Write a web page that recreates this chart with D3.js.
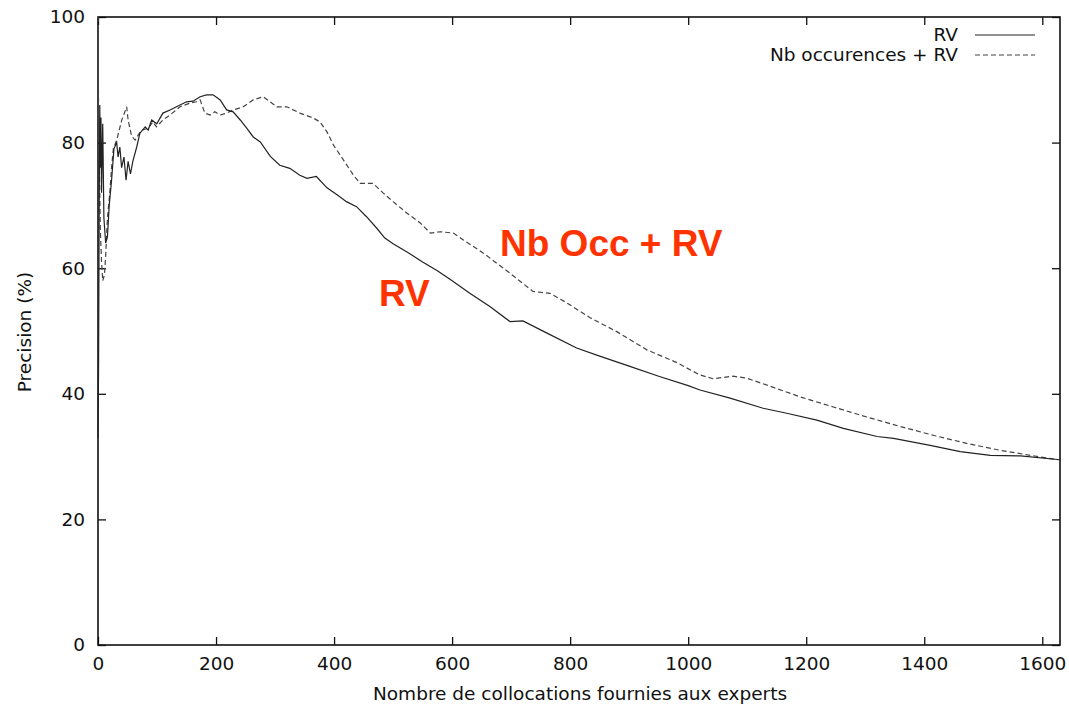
<!DOCTYPE html>
<html>
<head>
<meta charset="utf-8">
<script src="https://cdn.jsdelivr.net/npm/d3@7"></script>
<style>
  body { margin: 0; background: #fff; }
  text { font-family: "DejaVu Sans", sans-serif; }
</style>
</head>
<body>
<script>
// plot box
const w = 1069;
const h = 704;
const padL = 98, padR = 1060, padT = 17, padB = 645;
const fs = 18.5;

// data
const xTicks = [0, 200, 400, 600, 800, 1000, 1200, 1400, 1600];
const yTicks = [0, 20, 40, 60, 80, 100];

const rvX = [0, 1, 2, 3, 4, 5, 6, 8, 10, 13, 16, 19, 23, 27, 31.7, 34, 37, 40, 44, 47.5, 51, 55, 59, 65.6, 71, 80, 85, 91, 99.5, 110, 122, 133, 150, 161, 173, 184, 195, 207, 218, 229, 241, 252, 263, 275, 292, 308, 325, 342, 354, 370, 388, 405, 421, 438, 455, 472, 486, 500, 525, 550, 575, 597, 630, 664, 698, 720, 760, 811, 850, 900, 950, 1000, 1020, 1071, 1127, 1167, 1218, 1263, 1320, 1348, 1410, 1461, 1512, 1563, 1630];
const rvY = [33, 45, 70, 86, 76, 84, 72, 83, 68, 64, 65, 70, 74, 79, 80, 77.7, 79.3, 76, 77.7, 74, 77, 75, 77, 79.3, 81.5, 82.5, 82, 83.6, 83, 84.7, 85.2, 85.7, 86.5, 86.6, 87.3, 87.6, 87.6, 86.8, 85.2, 84.9, 83.6, 82.3, 80.9, 80.1, 77.8, 76.4, 75.9, 74.8, 74.3, 74.6, 72.8, 71.7, 70.6, 69.8, 68.2, 66.4, 64.8, 63.9, 62.5, 61, 59.6, 58.2, 56, 53.9, 51.5, 51.6, 49.7, 47.3, 46, 44.4, 42.8, 41.3, 40.6, 39.3, 37.7, 36.9, 35.8, 34.5, 33.2, 32.9, 31.8, 30.8, 30.2, 30.1, 29.5];

const occX = [0, 0.5, 1, 2, 3, 4, 6, 8, 11, 13, 16, 20, 23, 26, 32, 40, 48.6, 51, 57, 63, 70, 76, 85, 93, 99, 110, 122, 139, 156, 167, 173, 181, 190, 198, 207, 218, 229, 246, 263, 280, 303, 320, 342, 365, 376, 388, 399, 416, 433, 444, 455, 466, 483, 500, 523, 546, 563, 580, 602, 619, 653, 698, 737, 766, 794, 834, 879, 930, 980, 1020, 1042, 1076, 1099, 1139, 1190, 1246, 1303, 1359, 1415, 1472, 1529, 1580, 1627];
const occY = [100, 92, 85, 78, 72, 66, 61, 58, 59, 62, 68, 72, 76, 79, 80.5, 83.5, 85.7, 83.6, 81, 80.4, 81.5, 82, 82.3, 83.3, 82.5, 83.6, 84.4, 85.7, 86.3, 86.5, 86.8, 84.7, 84.4, 84.9, 84.4, 84.7, 85.2, 85.7, 86.8, 87.3, 85.7, 85.7, 84.7, 83.9, 83.3, 81.7, 79.6, 77.2, 74.8, 73.5, 73.5, 73.5, 72, 70.6, 68.8, 67.2, 65.6, 65.8, 65.6, 64.5, 62.4, 59.2, 56.3, 56, 54.5, 52.1, 49.9, 47, 45, 43, 42.4, 42.8, 42.5, 41.2, 39.5, 37.9, 36.3, 34.8, 33.4, 32.1, 31, 30.2, 29.5];

const seriesNames = ["RV", "Nb occurences + RV"];

const svg = d3.select("body")
  .append("svg")
  .attr("width", w)
  .attr("height", h);

const xScale = d3.scaleLinear().domain([0, 1630]).range([padL, padR]);
const yScale = d3.scaleLinear().domain([0, 100]).range([padB, padT]);

// gnuplot style inward ticks on all four sides
const xAxis = d3.axisBottom(xScale).tickValues(xTicks).tickFormat(d3.format("d"))
  .tickSizeInner(-8).tickSizeOuter(0).tickPadding(12);
const yAxis = d3.axisLeft(yScale).tickValues(yTicks).tickFormat(d3.format("d"))
  .tickSizeInner(-8).tickSizeOuter(0).tickPadding(13);

svg.append("g")
  .attr("transform", "translate(0," + padB + ")")
  .call(xAxis);
svg.append("g")
  .attr("transform", "translate(0," + padT + ")")
  .call(d3.axisTop(xScale).tickValues(xTicks).tickSizeInner(-8).tickSizeOuter(0).tickFormat(""));
svg.append("g")
  .attr("transform", "translate(" + padL + ",0)")
  .call(yAxis);
svg.append("g")
  .attr("transform", "translate(" + padR + ",0)")
  .call(d3.axisRight(yScale).tickValues(yTicks).tickSizeInner(-8).tickSizeOuter(0).tickFormat(""));

svg.selectAll(".domain").remove();
svg.selectAll(".tick line").attr("stroke", "#111").attr("stroke-width", 1.3);
svg.selectAll(".tick text")
  .attr("font-size", fs)
  .attr("fill", "#111")
  .style("font-family", "DejaVu Sans, sans-serif");

svg.append("rect")
  .attr("x", padL)
  .attr("y", padT)
  .attr("width", padR - padL)
  .attr("height", padB - padT)
  .attr("fill", "none")
  .attr("stroke", "#111")
  .attr("stroke-width", 1.6);

// curves
const line = d3.line()
  .x(d => xScale(d[0]))
  .y(d => yScale(d[1]));

const rv = rvX.map((x, i) => [x, rvY[i]]);
const occ = occX.map((x, i) => [x, occY[i]]);

svg.append("path")
  .datum(occ)
  .attr("d", line)
  .attr("fill", "none")
  .attr("stroke", "#444")
  .attr("stroke-width", 1.2)
  .attr("stroke-dasharray", "5,3");

svg.append("path")
  .datum(rv)
  .attr("d", line)
  .attr("fill", "none")
  .attr("stroke", "#222")
  .attr("stroke-width", 1.2);

// legend
const legend = svg.append("g");
seriesNames.forEach(function(name, i) {
  const y = 35 + i * 20;
  legend.append("text")
    .attr("x", 958)
    .attr("y", y)
    .attr("dy", "0.35em")
    .attr("text-anchor", "end")
    .attr("font-size", fs)
    .attr("fill", "#111")
    .text(name);
  legend.append("line")
    .attr("x1", 975).attr("x2", 1035)
    .attr("y1", y).attr("y2", y)
    .attr("stroke", i === 0 ? "#222" : "#444")
    .attr("stroke-width", 1.1)
    .attr("stroke-dasharray", i === 0 ? null : "5,3");
});

// axis titles
svg.append("text")
  .attr("x", 580)
  .attr("y", 700)
  .attr("text-anchor", "middle")
  .attr("font-size", fs)
  .attr("fill", "#111")
  .text("Nombre de collocations fournies aux experts");

svg.append("text")
  .attr("transform", "translate(31,332) rotate(-90)")
  .attr("text-anchor", "middle")
  .attr("font-size", fs)
  .attr("fill", "#111")
  .text("Precision (%)");

// red annotations
svg.append("text")
  .attr("x", 500)
  .attr("y", 256)
  .attr("font-size", 37)
  .attr("font-weight", "bold")
  .attr("fill", "#ff3300")
  .style("font-family", "Liberation Sans, Arial, sans-serif")
  .text("Nb Occ + RV");

svg.append("text")
  .attr("x", 379)
  .attr("y", 306)
  .attr("font-size", 37)
  .attr("font-weight", "bold")
  .attr("fill", "#ff3300")
  .style("font-family", "Liberation Sans, Arial, sans-serif")
  .text("RV");
</script>
</body>
</html>
